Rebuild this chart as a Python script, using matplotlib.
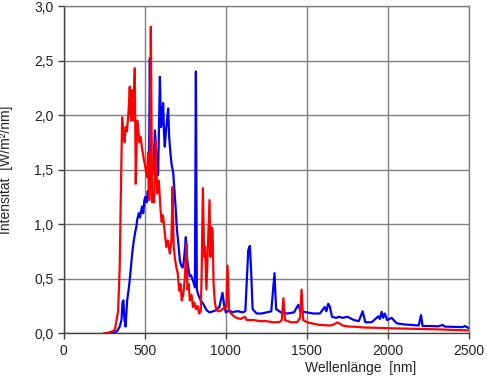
import numpy as np
import matplotlib
matplotlib.use("Agg")
import matplotlib.pyplot as plt
from matplotlib.ticker import FuncFormatter, MultipleLocator

plt.rcParams['font.family'] = ['Liberation Sans', 'DejaVu Sans']

# blue spectrum (wavelength nm, intensity W/m2/nm)
blue_nm = [280, 305, 330, 345, 356, 362, 368, 373, 381, 387, 391, 400, 407, 415, 422,
           432, 440, 448, 453, 463, 470, 477, 483, 490, 497, 504, 512, 518, 524, 531,
           537, 545, 553, 562, 568, 576, 582, 593, 600, 606, 613, 618, 623, 630, 637,
           644, 650, 658, 665, 675, 683, 691, 698, 705, 716, 722, 733, 740, 746, 753,
           760, 767, 777, 785, 795, 809, 815, 821, 830, 845, 860, 881, 900,
           920, 940, 960, 979, 990, 1000, 1020, 1040, 1060, 1080, 1100, 1120, 1138, 1148, 1155,
           1165, 1190, 1220, 1250, 1280, 1300, 1310, 1340, 1380, 1420, 1447, 1460, 1500, 1540, 1580,
           1610, 1620, 1632, 1642, 1655, 1680, 1700, 1720, 1750, 1790, 1820, 1844, 1860, 1900, 1941,
           1950, 1961, 1970, 1981, 1995, 2023, 2054, 2100, 2150, 2190, 2204, 2214, 2270, 2310, 2338,
           2350, 2400, 2460, 2475, 2500]
blue_val = [0.0, 0.0, 0.02, 0.06, 0.12, 0.28, 0.30, 0.15, 0.06, 0.20, 0.30, 0.40, 0.49, 0.62, 0.73,
            0.85, 0.92, 0.98, 1.04, 1.10, 1.06, 1.12, 1.16, 1.10, 1.22, 1.25, 1.20, 1.30, 1.22, 2.52,
            1.60, 1.45, 1.50, 1.86, 1.70, 1.55, 1.45, 2.35, 1.89, 1.95, 2.11, 1.85, 1.71, 1.85, 1.95,
            2.06, 1.80, 1.65, 1.55, 1.47, 1.30, 1.13, 0.95, 0.85, 0.67, 0.63, 0.60, 0.65, 0.75, 0.88,
            0.70, 0.61, 0.52, 0.53, 0.49, 0.42, 2.40, 0.40, 0.35, 0.30, 0.27, 0.21, 0.19,
            0.20, 0.21, 0.24, 0.37, 0.25, 0.19, 0.21, 0.19, 0.20, 0.20, 0.19, 0.20, 0.76, 0.80, 0.60,
            0.22, 0.18, 0.18, 0.19, 0.20, 0.55, 0.22, 0.19, 0.18, 0.19, 0.26, 0.20, 0.19, 0.18, 0.18,
            0.24, 0.20, 0.27, 0.24, 0.15, 0.14, 0.15, 0.14, 0.15, 0.12, 0.11, 0.20, 0.10, 0.10, 0.155,
            0.13, 0.195, 0.14, 0.18, 0.12, 0.14, 0.09, 0.08, 0.075, 0.07, 0.165, 0.065, 0.065, 0.062, 0.075,
            0.06, 0.058, 0.055, 0.065, 0.045]

# red spectrum
red_nm = [250, 263, 290, 315, 335, 345, 350, 360, 368, 375, 381, 390, 401, 407, 414,
          422, 429, 438, 444, 453, 460, 467, 474, 482, 488, 494, 500, 508, 514, 520,
          527, 531, 537, 545, 551, 557, 568, 576, 586, 597, 604, 612, 623, 633, 642,
          654, 664, 671, 678, 687, 695, 703, 712, 720, 728, 737, 747, 753, 757, 763,
          770, 778, 788, 797, 805, 815, 825, 835, 845, 850, 858,
          866, 872, 880, 888, 899, 905, 912, 918, 924, 932, 942, 960, 980, 995, 1003,
          1010, 1020, 1045, 1066, 1090, 1117, 1130, 1170, 1210, 1250, 1290, 1330, 1345, 1355, 1365,
          1400, 1440, 1458, 1467, 1477, 1500, 1530, 1580, 1650, 1690, 1700, 1720, 1760, 1800, 1850,
          1900, 1950, 2000, 2100, 2200, 2300, 2400, 2500]
red_val = [0.0, 0.0, 0.01, 0.03, 0.20, 0.60, 1.10, 1.98, 1.80, 1.75, 1.89, 1.85, 2.07, 2.26, 1.95,
           2.23, 1.95, 2.43, 1.37, 1.95, 1.85, 1.75, 1.80, 1.70, 1.65, 1.59, 1.55, 1.48, 1.43, 1.66,
           1.22, 1.35, 2.81, 1.20, 1.30, 1.20, 1.77, 1.28, 1.40, 1.13, 1.02, 1.08, 0.92, 0.79, 0.85,
           0.73, 0.85, 1.34, 0.80, 0.67, 0.60, 0.55, 0.39, 0.45, 0.30, 0.35, 0.51, 0.70, 0.82, 0.40,
           0.45, 0.30, 0.35, 0.24, 0.28, 0.22, 0.25, 0.18, 0.20, 0.50, 1.33,
           0.70, 0.79, 0.40, 0.75, 1.22, 0.70, 0.97, 0.95, 0.46, 0.28, 0.21, 0.20, 0.22, 0.24, 0.24,
           0.62, 0.20, 0.16, 0.14, 0.13, 0.15, 0.12, 0.12, 0.11, 0.11, 0.10, 0.10, 0.12, 0.32, 0.12,
           0.10, 0.10, 0.14, 0.40, 0.12, 0.10, 0.09, 0.075, 0.07, 0.098, 0.09, 0.07, 0.06, 0.058, 0.052,
           0.05, 0.048, 0.045, 0.042, 0.038, 0.035, 0.03, 0.025]

fig = plt.figure(figsize=(4.87, 3.76), dpi=100)
ax = fig.add_axes([0.131, 0.114, 0.832, 0.87])

ax.plot(blue_nm, blue_val, color="#0000ff", lw=1.6, solid_joinstyle="round")
ax.plot(red_nm, red_val, color="#ff0000", lw=1.6, solid_joinstyle="round")

ax.set_xlim(0, 2500)
ax.set_ylim(0, 3.0)
ax.xaxis.set_major_locator(MultipleLocator(500))
ax.yaxis.set_major_locator(MultipleLocator(0.5))
ax.yaxis.set_major_formatter(FuncFormatter(lambda v, p: f"{v:.1f}".replace(".", ",")))
ax.grid(True, color="#7f7f7f", lw=1.0)
ax.set_axisbelow(True)
for s in ax.spines.values():
    s.set_color("#7f7f7f")
    s.set_linewidth(1.0)
ax.spines["left"].set_color("#404040")
ax.spines["bottom"].set_color("#404040")
ax.tick_params(length=4, width=1, color="#404040", labelsize=10, labelcolor="#222222")

ax.set_xlabel("Wellenlänge  [nm]", fontsize=10, color="#222222")
ax.xaxis.set_label_coords(0.733, -0.085)
ax.set_ylabel("Intensität  [W/m²/nm]", fontsize=10, color="#222222")
ax.yaxis.set_label_coords(-0.125, 0.5)

fig.savefig("out.png", dpi=100)
